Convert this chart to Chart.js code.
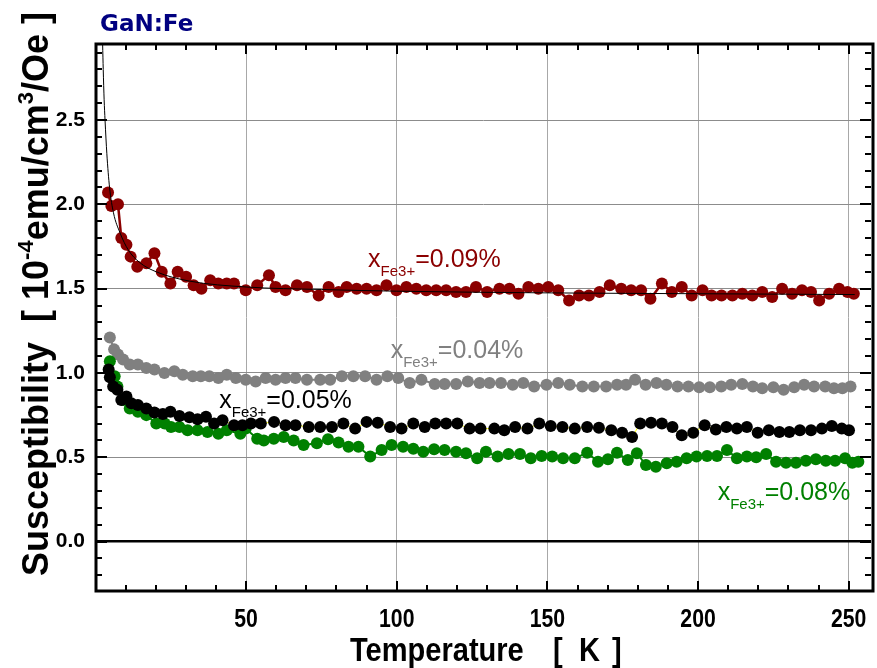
<!DOCTYPE html>
<html>
<head>
<meta charset="utf-8">
<script src="https://cdn.jsdelivr.net/npm/chart.js@4.4.1/dist/chart.umd.min.js"></script>
<style>
html, body { margin: 0; padding: 0; background: #fff; }
#wrap { width: 877px; height: 668px; }
</style>
</head>
<body>
<div id="wrap"><canvas id="chart" width="877" height="668"></canvas></div>
<script>
// x = 0.09 % sample (dark red, joined)
var redT = [4.2,5.3,7.5,8.6,10.3,11.7,13.9,16.9,19.6,22.0,24.9,27.3,30.1,32.6,35.2,38.1,40.8,43.6,46.0,49.9,
    53.7,57.6,59.8,63.1,66.9,70.2,74.1,77.4,80.7,83.4,86.7,90.0,93.3,96.6,99.9,103.2,106.5,109.8,113.1,116.4,
    119.7,123.0,126.3,130.0,134.1,137.4,140.4,143.7,147.0,150.3,153.6,157.2,160.5,163.8,167.3,170.7,174.5,177.8,181.1,184.2,
    188.0,191.3,194.6,197.9,201.5,204.5,207.8,211.4,214.7,218.0,221.3,224.6,227.9,231.2,234.5,237.5,240.2,243.5,246.8,249.6,251.7];
var redV = [2.07,1.99,2.00,1.80,1.76,1.69,1.63,1.65,1.71,1.60,1.53,1.60,1.57,1.52,1.50,1.55,1.53,1.53,1.53,1.49,
    1.52,1.58,1.51,1.49,1.52,1.51,1.46,1.51,1.48,1.51,1.50,1.50,1.49,1.52,1.49,1.51,1.50,1.49,1.49,1.49,
    1.48,1.48,1.51,1.48,1.50,1.50,1.47,1.51,1.50,1.51,1.49,1.43,1.46,1.46,1.48,1.52,1.50,1.49,1.49,1.44,
    1.53,1.48,1.51,1.46,1.49,1.46,1.46,1.46,1.47,1.46,1.48,1.45,1.50,1.47,1.49,1.48,1.43,1.47,1.50,1.48,1.47];

// x = 0.04 % sample (grey)
var grayT = [4.8,6.2,7.5,9.2,11.4,14.1,16.9,19.6,22.9,26.2,29.0,32.3,35.0,37.8,40.8,43.6,46.6,49.9,53.2,56.5,
    59.8,63.1,66.4,70.2,74.6,77.9,81.8,85.6,89.5,93.3,96.9,100.5,104.3,108.2,112.6,115.9,119.7,123.6,127.5,130.8,
    134.6,138.5,142.0,145.6,149.7,153.6,157.4,161.6,165.4,169.5,173.1,176.1,179.1,182.6,186.2,189.5,193.2,196.8,200.4,203.9,
    207.7,211.0,214.7,218.2,221.3,225.0,228.4,231.9,235.2,238.5,242.2,245.1,247.9,250.6];
var grayV = [1.21,1.14,1.11,1.08,1.05,1.05,1.03,1.02,1.00,1.01,0.99,0.98,0.98,0.98,0.97,0.99,0.97,0.96,0.95,0.97,
    0.96,0.97,0.97,0.96,0.96,0.96,0.98,0.98,0.98,0.96,0.98,0.97,0.94,0.96,0.935,0.935,0.935,0.95,0.94,0.94,
    0.94,0.93,0.94,0.92,0.93,0.94,0.93,0.92,0.92,0.92,0.93,0.93,0.96,0.93,0.94,0.93,0.92,0.92,0.915,0.915,
    0.92,0.93,0.935,0.92,0.91,0.915,0.90,0.915,0.93,0.92,0.92,0.91,0.91,0.92];

// x = 0.05 % sample (black dots, yellow joins)
var blackT = [4.4,4.8,5.9,7.3,8.6,10.3,11.9,14.1,16.9,19.6,22.4,24.9,27.9,31.2,33.9,36.7,39.4,42.2,46.0,48.8,
    51.6,54.9,59.3,63.1,66.4,70.8,74.6,78.5,82.3,86.2,90.0,93.7,97.8,101.6,105.5,109.3,112.8,116.4,120.1,124.2,
    127.8,132.4,135.7,139.3,143.4,147.3,151.1,155.0,159.1,163.2,167.1,171.2,174.8,178.1,180.8,184.4,188.0,191.5,194.6,198.4,
    202.2,205.9,209.4,212.9,216.2,219.8,223.5,227.0,230.3,233.8,237.5,241.1,244.4,247.7,250.1];
var blackV = [1.02,0.975,0.92,0.90,0.84,0.86,0.82,0.81,0.79,0.765,0.757,0.77,0.745,0.737,0.725,0.74,0.70,0.72,0.69,0.69,
    0.70,0.70,0.71,0.69,0.69,0.68,0.68,0.68,0.70,0.67,0.71,0.705,0.68,0.67,0.70,0.68,0.70,0.70,0.70,0.67,
    0.67,0.67,0.66,0.68,0.67,0.70,0.685,0.68,0.67,0.68,0.675,0.66,0.645,0.62,0.70,0.705,0.70,0.68,0.63,0.645,
    0.69,0.665,0.68,0.67,0.68,0.645,0.66,0.65,0.65,0.66,0.66,0.67,0.685,0.67,0.66];

// x = 0.08 % sample (green)
var greenT = [4.8,6.4,7.3,9.2,11.4,14.1,16.9,20.2,23.0,25.1,27.9,30.6,33.9,37.2,40.8,43.6,48.1,49.9,53.7,55.9,
    59.2,62.5,65.8,69.1,73.5,77.2,80.7,84.0,87.3,91.2,95.0,98.3,102.1,105.5,108.8,112.4,115.9,119.7,123.0,126.7,
    129.6,133.5,137.1,140.9,144.5,148.1,151.6,155.2,159.1,163.2,166.8,170.1,173.1,176.7,179.7,182.7,186.0,189.6,192.9,196.2,
    199.5,203.0,206.3,209.6,212.9,216.2,219.3,222.6,225.9,229.2,232.5,235.8,239.1,242.4,245.5,248.8,251.2,253.2];
var greenV = [1.07,0.98,0.92,0.84,0.79,0.77,0.75,0.70,0.70,0.68,0.68,0.66,0.66,0.65,0.64,0.66,0.64,0.67,0.61,0.60,
    0.61,0.62,0.60,0.573,0.583,0.607,0.587,0.563,0.563,0.504,0.543,0.573,0.563,0.55,0.533,0.547,0.543,0.533,0.524,0.494,
    0.533,0.504,0.52,0.52,0.494,0.508,0.504,0.494,0.494,0.527,0.474,0.488,0.527,0.484,0.524,0.454,0.444,0.464,0.474,0.494,
    0.504,0.508,0.508,0.543,0.494,0.504,0.50,0.52,0.474,0.468,0.468,0.48,0.488,0.48,0.48,0.494,0.468,0.474];

// thin fitted curve through the 0.09 % data
var fitT = [2.4,2.6,2.9,3.2,3.8,4.7,6.0,8.2,10.9,14.7,20.2,31.2,50,75,100,150,200,252];
var fitV = [2.95,2.80,2.62,2.50,2.30,2.10,1.95,1.83,1.73,1.655,1.60,1.545,1.51,1.495,1.485,1.475,1.47,1.465];

var xTickValues = [50, 100, 150, 200, 250];
var yTickValues = [0, 0.5, 1.0, 1.5, 2.0, 2.5];

// curve labels: [text after subscript, colour, T of left edge, baseline value]
var curveLabels = [
    ['=0.09%', '#8b0000', 90.5, 1.63],
    ['=0.04%', '#808080', 98.0, 1.089],
    ['=0.05%', '#000000', 41.1, 0.795],
    ['=0.08%', '#008000', 206.5, 0.247]
];

function pts(t, v) {
    return t.map(function(x, i) { return {x: x, y: v[i]}; });
}

var FONT = '"Liberation Sans", Arial, sans-serif';

function drawLabel(ctx, px, py, rest, color) {
    ctx.fillStyle = color;
    ctx.textAlign = 'left';
    ctx.textBaseline = 'alphabetic';
    ctx.font = '25px ' + FONT;
    ctx.fillText('x', px, py);
    var cx = px + ctx.measureText('x').width;
    ctx.font = '15px ' + FONT;
    ctx.fillText('Fe3+', cx, py + 9);
    cx += ctx.measureText('Fe3+').width;
    ctx.font = '25px ' + FONT;
    ctx.fillText(rest, cx, py);
}

var decorations = {
    id: 'decorations',
    afterDraw: function(chart) {
        var ctx = chart.ctx, a = chart.chartArea;
        var xs = chart.scales.x, ys = chart.scales.y;
        ctx.save();

        // inward tick marks on all four sides
        ctx.strokeStyle = '#000';
        ctx.lineWidth = 2;
        ctx.beginPath();
        for (var t = 10; t < xs.max; t += 10) {
            var px = Math.round(xs.getPixelForValue(t));
            var len = (t % 50 === 0) ? 10 : 6;
            ctx.moveTo(px, a.bottom); ctx.lineTo(px, a.bottom - len);
            ctx.moveTo(px, a.top); ctx.lineTo(px, a.top + len);
        }
        for (var k = -2; k / 10 < ys.max; k++) {
            var py = Math.round(ys.getPixelForValue(k / 10));
            var l2 = (k % 5 === 0) ? 11 : 6;
            ctx.moveTo(a.left, py); ctx.lineTo(a.left + l2, py);
            ctx.moveTo(a.right, py); ctx.lineTo(a.right - l2, py);
        }
        ctx.stroke();

        // frame
        ctx.lineWidth = 3;
        ctx.strokeRect(a.left, a.top, a.right - a.left + 2, a.bottom - a.top);

        // x tick labels (condensed bold)
        ctx.fillStyle = '#000';
        ctx.font = 'bold 25px ' + FONT;
        ctx.textAlign = 'center';
        ctx.textBaseline = 'alphabetic';
        xTickValues.forEach(function(v) {
            var px = xs.getPixelForValue(v);
            ctx.save();
            ctx.translate(px, 627);
            ctx.scale(0.85, 1);
            ctx.fillText(String(v), 0, 0);
            ctx.restore();
        });

        // x axis title
        ctx.font = 'bold 33px ' + FONT;
        ctx.textAlign = 'left';
        [['Temperature', 350], ['[', 553], ['K', 579], [']', 612]].forEach(function(p) {
            ctx.save();
            ctx.translate(p[1], 661);
            ctx.scale(0.88, 1);
            ctx.fillText(p[0], 0, 0);
            ctx.restore();
        });

        // y axis title, rotated, with superscripts
        ctx.save();
        ctx.translate(48, 576);
        ctx.rotate(-Math.PI / 2);
        var cx = 0;
        [['Susceptibility  [ 10', 36, 0], ['-4', 22, -15], ['emu/cm', 36, 0], ['3', 22, -15], ['/Oe ]', 36, 0]].forEach(function(p) {
            ctx.font = 'bold ' + p[1] + 'px ' + FONT;
            ctx.fillText(p[0], cx, p[2]);
            cx += ctx.measureText(p[0]).width;
        });
        ctx.restore();

        // sample tag
        ctx.fillStyle = '#000080';
        ctx.font = 'bold 23px "DejaVu Sans", sans-serif';
        ctx.fillText('GaN:Fe', 100, 31);

        // curve labels
        curveLabels.forEach(function(c) {
            drawLabel(ctx, xs.getPixelForValue(c[2]), ys.getPixelForValue(c[3]), c[0], c[1]);
        });
        ctx.restore();
    }
};

var chart = new Chart(document.getElementById('chart'), {
    type: 'scatter',
    data: {
        datasets: [
            {
                label: 'fit',
                data: pts(fitT, fitV),
                showLine: true,
                borderColor: '#000',
                borderWidth: 1,
                pointRadius: 0,
                cubicInterpolationMode: 'monotone',
                order: 0
            },
            {
                label: '0.09%',
                data: pts(redT, redV),
                showLine: true,
                borderColor: '#8b0000',
                backgroundColor: '#8b0000',
                borderWidth: 2.5,
                pointRadius: 6,
                pointBorderWidth: 0,
                order: 1
            },
            {
                label: '0.05%',
                data: pts(blackT, blackV),
                showLine: true,
                borderColor: '#ffff00',
                borderWidth: 1,
                pointBackgroundColor: '#000',
                pointBorderColor: '#000',
                pointRadius: 6,
                pointBorderWidth: 0,
                order: 2
            },
            {
                label: '0.08%',
                data: pts(greenT, greenV),
                showLine: true,
                borderColor: '#008000',
                backgroundColor: '#008000',
                borderWidth: 2,
                pointRadius: 6,
                pointBorderWidth: 0,
                order: 3
            },
            {
                label: '0.04%',
                data: pts(grayT, grayV),
                showLine: true,
                borderColor: '#808080',
                backgroundColor: '#808080',
                borderWidth: 2,
                pointRadius: 6,
                pointBorderWidth: 0,
                order: 4
            }
        ]
    },
    options: {
        responsive: false,
        animation: false,
        devicePixelRatio: 1,
        layout: { padding: { top: 44, right: 0, bottom: 0, left: 0 } },
        plugins: { legend: { display: false }, tooltip: { enabled: false } },
        scales: {
            x: {
                type: 'linear',
                min: 0.2,
                max: 257.4,
                afterBuildTicks: function(s) { s.ticks = xTickValues.map(function(v) { return {value: v}; }); },
                afterFit: function(s) { s.height = 77; },
                ticks: { display: false },
                grid: { color: '#a8a8a8', lineWidth: 1, drawTicks: false },
                border: { display: false }
            },
            y: {
                type: 'linear',
                min: -0.293,
                max: 2.951,
                afterBuildTicks: function(s) { s.ticks = yTickValues.map(function(v) { return {value: v}; }); },
                afterFit: function(s) { s.width = 96; },
                ticks: {
                    color: '#000',
                    padding: 11,
                    font: { family: FONT, size: 21, weight: 'bold' },
                    callback: function(v) { return Number(v).toFixed(1); }
                },
                grid: {
                    color: function(c) { return c.tick && c.tick.value === 0 ? '#000' : '#8c8c8c'; },
                    lineWidth: function(c) { return c.tick && c.tick.value === 0 ? 2.5 : 1; },
                    drawTicks: false
                },
                border: { display: false }
            }
        }
    },
    plugins: [decorations]
});
</script>
</body>
</html>
